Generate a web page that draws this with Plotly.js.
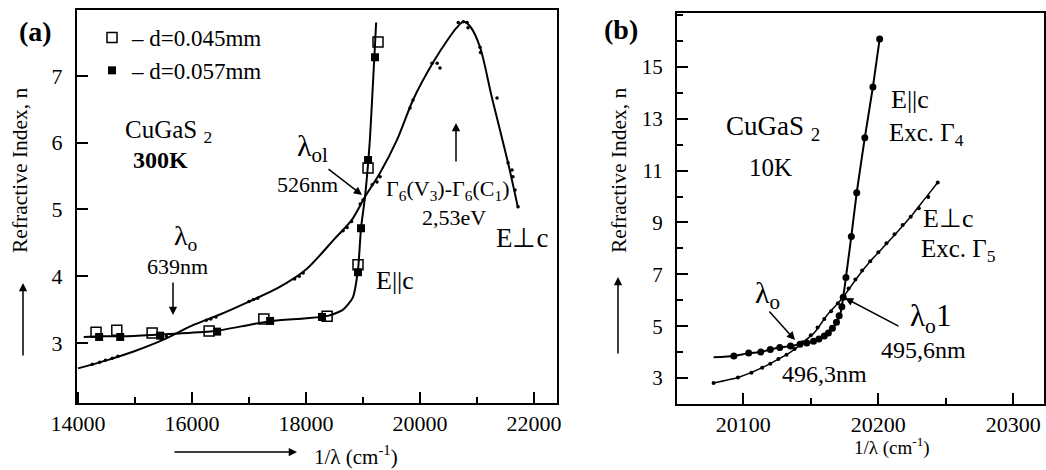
<!DOCTYPE html>
<html>
<head>
<meta charset="utf-8">
<script src="https://cdn.plot.ly/plotly-3.0.1.min.js"></script>
<style>html,body{margin:0;padding:0;background:#fff;}#chart{width:1046px;height:470px;}</style>
</head>
<body>
<div id="chart"></div>
<script>
// ---------- Panel (a): CuGaS2, 300K ----------
const a_perp_x = [14000,14500,15000,15500,16000,16500,17000,17500,18000,18500,18800,19035,19300,19600,19877,20228,20500,20640,20760,20880,21053,21263,21544,21720];
const a_perp_n = [2.62,2.74,2.88,3.05,3.26,3.43,3.62,3.82,4.10,4.56,4.84,5.19,5.55,6.05,6.64,7.20,7.56,7.72,7.81,7.74,7.43,6.67,5.70,5.02];
const a_perpDots_x = [14250,14380,14480,14600,14700,15450,15550,16250,16330,16420,17000,17080,17150,17800,17880,17950,18650,18720,18800,18950,19000,19160,19245,19300,19825,19877,20210,20300,20350,20670,20760,20825,20842,21053,21060,21350,21544,21614,21631,21667,21720];
const a_perpDots_n = [2.68,2.71,2.74,2.77,2.80,3.07,3.10,3.34,3.36,3.39,3.62,3.65,3.67,3.96,4.00,4.05,4.68,4.73,4.82,5.08,5.14,5.37,5.41,5.49,6.52,6.64,7.19,7.19,7.12,7.80,7.81,7.80,7.72,7.43,7.35,6.67,5.70,5.59,5.49,5.29,5.04];
const a_par_x = [14100,14400,14800,15300,15700,16400,17000,17400,18000,18400,18650,18820,18912,18965,19035,19088,19120,19175,19230];
const a_par_n = [3.09,3.10,3.10,3.12,3.14,3.18,3.27,3.33,3.37,3.41,3.50,3.68,4.10,4.72,5.19,5.68,6.04,6.90,7.80];
const a_open_x = [14316,14680,15300,16300,17260,18370,18912,19088,19263];
const a_open_n = [3.16,3.19,3.15,3.18,3.36,3.40,4.17,5.62,7.51];
const a_fill_x = [14370,14740,15440,16440,17370,18280,18912,18965,19088,19210];
const a_fill_n = [3.09,3.09,3.11,3.17,3.33,3.39,4.06,4.72,5.74,7.28];
const legendNames = ['– d=0.045mm','– d=0.057mm'];
const a_xticks = [14000,16000,18000,20000,22000];
const a_yticks = [3,4,5,6,7];

// ---------- Panel (b): CuGaS2, 10K ----------
const b_par_x = [20078,20093,20104,20113,20120,20127,20135,20142,20150,20155,20159,20164,20168,20172,20174,20176,20180,20184,20190,20196,20201];
const b_par_n = [3.80,3.85,3.96,4.00,4.10,4.18,4.23,4.30,4.38,4.48,4.58,4.80,5.04,5.50,6.12,6.88,8.46,10.15,12.27,14.23,16.08];
const b_parDots_x = [20093,20104,20113,20120,20127,20135,20142,20147,20152,20156,20160,20163,20166,20169,20171,20173,20174,20176,20180,20184,20190,20196,20201];
const b_parDots_n = [3.85,3.96,4.00,4.10,4.18,4.23,4.30,4.35,4.42,4.50,4.62,4.74,4.92,5.15,5.40,5.75,6.12,6.88,8.46,10.15,12.27,14.23,16.08];
const b_perp_x = [20078,20096,20114,20125,20135,20142,20153,20162,20170,20174,20184,20194,20205,20216,20226,20235,20244];
const b_perp_n = [2.81,3.02,3.40,3.70,4.00,4.28,4.77,5.42,5.88,6.12,6.85,7.50,8.12,8.75,9.35,9.95,10.54];
const b_perpDots_x = [20078,20096,20106,20114,20120,20126,20132,20138,20144,20150,20155,20160,20165,20170,20178,20183,20188,20194,20200,20206,20212,20218,20224,20230,20237,20244];
const b_perpDots_n = [2.81,3.02,3.20,3.40,3.55,3.73,3.90,4.12,4.38,4.65,4.95,5.28,5.58,5.88,6.45,6.80,7.15,7.50,7.85,8.20,8.55,8.90,9.22,9.55,9.98,10.54];
const b_xticks = [20100,20200,20300];
const b_yticks = [3,5,7,9,11,13,15];

const W = 1046, H = 470;
const px = x => x / W, py = y => 1 - y / H;
const FONT = 'Liberation Serif, Times New Roman, serif';

const traces = [
  {x:a_perp_x, y:a_perp_n, mode:'lines', line:{color:'#000', width:2, shape:'spline', smoothing:0.8}, xaxis:'x', yaxis:'y', showlegend:false, hoverinfo:'skip'},
  {x:a_perpDots_x, y:a_perpDots_n, mode:'markers', marker:{color:'#000', size:3.5}, xaxis:'x', yaxis:'y', showlegend:false},
  {x:a_par_x, y:a_par_n, mode:'lines', line:{color:'#000', width:2, shape:'spline', smoothing:0.6}, xaxis:'x', yaxis:'y', showlegend:false, hoverinfo:'skip'},
  {x:a_open_x, y:a_open_n, name:legendNames[0], mode:'markers', marker:{symbol:'square-open', color:'#000', size:10, line:{width:1.5, color:'#000'}}, xaxis:'x', yaxis:'y'},
  {x:a_fill_x, y:a_fill_n, name:legendNames[1], mode:'markers', marker:{symbol:'square', color:'#000', size:8}, xaxis:'x', yaxis:'y'},
  {x:b_par_x, y:b_par_n, mode:'lines', line:{color:'#000', width:2, shape:'spline', smoothing:0.5}, xaxis:'x2', yaxis:'y2', showlegend:false},
  {x:b_parDots_x, y:b_parDots_n, mode:'markers', marker:{color:'#000', size:7}, xaxis:'x2', yaxis:'y2', showlegend:false},
  {x:b_perp_x, y:b_perp_n, mode:'lines', line:{color:'#000', width:1.5, shape:'spline', smoothing:0.6}, xaxis:'x2', yaxis:'y2', showlegend:false},
  {x:b_perpDots_x, y:b_perpDots_n, mode:'markers', marker:{color:'#000', size:4}, xaxis:'x2', yaxis:'y2', showlegend:false}
];

const axisBase = {
  showline:true, linecolor:'#000', linewidth:2, mirror:true, showgrid:false, zeroline:false,
  ticks:'inside', ticklen:11, tickwidth:2, tickcolor:'#000', tickformat:'d',
  tickfont:{family:FONT, size:22, color:'#000'}
};

function T(text, x, y, size, extra) {
  return Object.assign({text:text, x:px(x), y:py(y), xref:'paper', yref:'paper', showarrow:false,
    font:{family:FONT, size:size, color:'#000'}, xanchor:'center', yanchor:'middle'}, extra || {});
}
function ARW(hx, hy, tx, ty) {
  return {text:'', x:px(hx), y:py(hy), xref:'paper', yref:'paper', showarrow:true,
    ax:tx - hx, ay:ty - hy, axref:'pixel', ayref:'pixel', arrowhead:2, arrowsize:1.1, arrowwidth:1.5, arrowcolor:'#000'};
}

const annotations = [
  // panel a
  T('<b>(a)</b>', 35, 32, 28),
  T('CuGaS <sub>2</sub>', 168, 131, 25),
  T('<b>300K</b>', 160, 160, 24),
  T('λ<sub>ol</sub>', 312, 148, 30),
  T('526nm', 307, 184, 22),
  ARW(362, 195, 327, 168),
  T('λ<sub>o</sub>', 186, 238, 28),
  T('639nm', 177, 266, 22),
  ARW(173, 315, 173, 281),
  T('Γ<sub>6</sub>(V<sub>3</sub>)-Γ<sub>6</sub>(C<sub>1</sub>)', 447, 190, 22),
  T('2,53eV', 454, 217, 22),
  ARW(456, 123, 456, 163),
  T('E⊥c', 522, 238, 27),
  T('E||c', 395, 280, 26),
  T('Refractive Index, n', 20, 170, 21.5, {textangle:-90}),
  ARW(23, 283, 23, 357),
  T('1/λ (cm<sup>-1</sup>)', 356, 455, 21),
  ARW(297, 452, 173, 452),
  // panel b
  T('<b>(b)</b>', 621, 30, 28),
  T('CuGaS <sub>2</sub>', 773, 128, 27),
  T('10K', 770, 167, 25),
  T('E||c', 910, 100, 26),
  T('Exc. Γ<sub>4</sub>', 926, 134, 25),
  T('E⊥c', 948, 218, 26),
  T('Exc. Γ<sub>5</sub>', 958, 250, 25),
  T('λ<sub>o</sub>', 767, 295, 30),
  ARW(795, 340, 768, 310),
  T('λ<sub>o</sub>1', 930, 318, 31),
  ARW(845, 298, 900, 327),
  T('495,6nm', 923, 350, 24),
  T('496,3nm', 824, 374, 24),
  T('Refractive Index, n', 619, 170, 21.5, {textangle:-90}),
  ARW(618, 277, 618, 355),
  T('1/λ (cm<sup>-1</sup>)', 892, 446, 19)
];

const layout = {
  width:W, height:H, margin:{l:0, r:0, t:0, b:0}, paper_bgcolor:'#fff', plot_bgcolor:'#fff',
  font:{family:FONT, color:'#000'},
  showlegend:true,
  legend:{x:px(92), y:py(16), xanchor:'left', yanchor:'top', bgcolor:'rgba(0,0,0,0)',
    font:{family:FONT, size:23, color:'#000'}, itemwidth:30, tracegroupgap:0},
  xaxis: Object.assign({}, axisBase, {domain:[px(77), px(557)], range:[13982, 22403], tickvals:a_xticks,
    ticklabelstandoff:0,
    minor:{ticks:'inside', ticklen:6, tickwidth:2, tickcolor:'#000', dtick:1000, tick0:14000}, anchor:'y'}),
  yaxis: Object.assign({}, axisBase, {domain:[py(403), py(9.5)], range:[2.101, 7.995], tickvals:a_yticks,
    ticklabelstandoff:8, anchor:'x'}),
  xaxis2: Object.assign({}, axisBase, {domain:[px(677), px(1044)], range:[20050.9, 20322.7], tickvals:b_xticks,
    ticklabelstandoff:0, tickfont:{family:FONT, size:22, color:'#000'},
    minor:{ticks:'inside', ticklen:6, tickwidth:2, tickcolor:'#000', dtick:50, tick0:20100}, anchor:'y2'}),
  yaxis2: Object.assign({}, axisBase, {domain:[py(404), py(13.3)], range:[1.997, 17.07], tickvals:b_yticks,
    ticklabelstandoff:8, tickfont:{family:FONT, size:21, color:'#000'},
    minor:{ticks:'inside', ticklen:6, tickwidth:2, tickcolor:'#000', dtick:1, tick0:3}, anchor:'x2'}),
  annotations:annotations
};

Plotly.newPlot('chart', traces, layout, {displayModeBar:false, staticPlot:true});
</script>
</body>
</html>
